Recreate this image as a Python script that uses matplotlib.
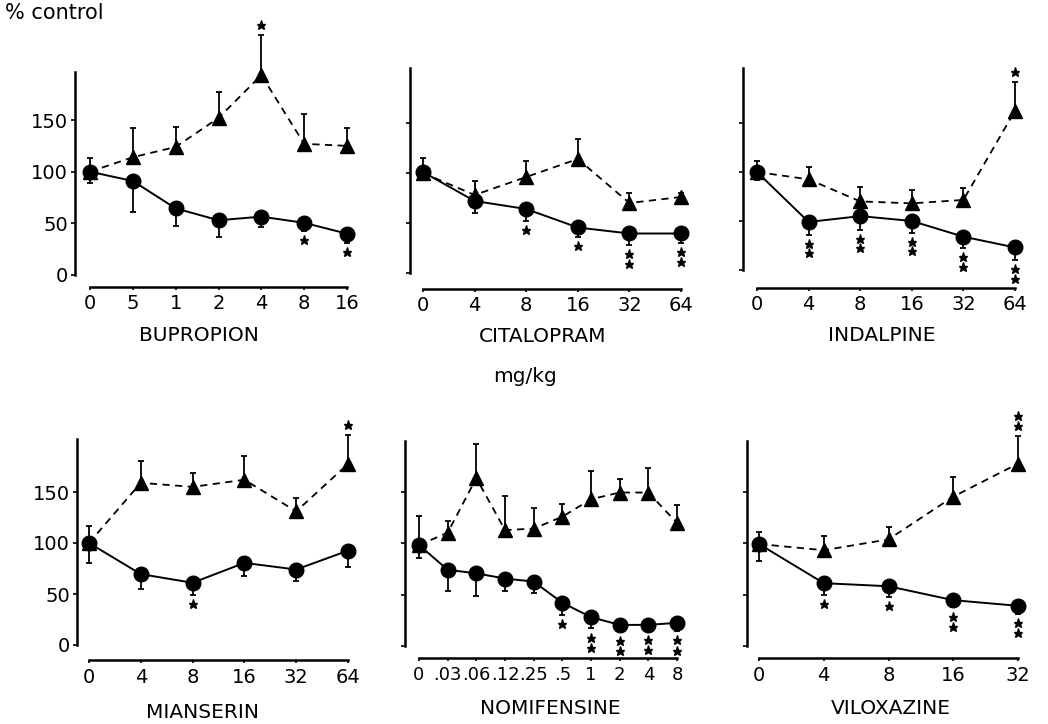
import matplotlib
matplotlib.use("Agg")
import matplotlib.pyplot as plt

plt.rcParams['font.family'] = ['DejaVu Sans']

# ---- data (% of control) ----
names = ['BUPROPION', 'CITALOPRAM', 'INDALPINE', 'MIANSERIN', 'NOMIFENSINE', 'VILOXAZINE']

doses_bup = ['0', '5', '1', '2', '4', '8', '16']
circ_bup = [100, 91, 64.5, 53, 56.5, 50.5, 40]
circ_lo_bup = [89, 61, 47, 37, 46, 42.5, 31]
tri_bup = [100, 114, 124, 152, 193.5, 127, 125]
tri_hi_bup = [113, 142, 143.5, 177, 232, 155.5, 142]
c_stars_bup = [0, 0, 0, 0, 0, 1, 1]
t_stars_bup = [0, 0, 0, 0, 1, 0, 0]

doses_cit = ['0', '4', '8', '16', '32', '64']
circ_cit = [101, 72, 64, 45.5, 39.5, 39.5]
circ_lo_cit = [95, 60, 52, 36, 28, 30]
tri_cit = [100, 78, 96, 114, 70, 76]
tri_hi_cit = [115, 92, 112, 134, 80, 80]
c_stars_cit = [0, 0, 1, 1, 2, 2]
t_stars_cit = [0, 0, 0, 0, 0, 0]

doses_ind = ['0', '4', '8', '16', '32', '64']
circ_ind = [100, 49, 55, 50, 34, 23]
circ_lo_ind = [92, 36, 41, 38, 22, 10]
tri_ind = [100, 92.5, 70, 68, 71.5, 162.5]
tri_hi_ind = [111.5, 105, 85, 82, 84, 192]
c_stars_ind = [0, 2, 2, 2, 2, 2]
t_stars_ind = [0, 0, 0, 0, 0, 1]

doses_mia = ['0', '4', '8', '16', '32', '64']
circ_mia = [100, 69.5, 61, 80.5, 74, 92.5]
circ_lo_mia = [80, 54.5, 49.5, 67.5, 62.5, 76]
tri_mia = [100, 159, 155, 162, 131, 177.5]
tri_hi_mia = [116.5, 180.5, 169, 185, 144, 206]
c_stars_mia = [0, 0, 1, 0, 0, 0]
t_stars_mia = [0, 0, 0, 0, 0, 1]

doses_nom = ['0', '.03', '.06', '.12', '.25', '.5', '1', '2', '4', '8']
circ_nom = [98, 74, 70.5, 65.5, 62.5, 42, 28, 20.5, 20.5, 22.5]
circ_lo_nom = [85, 53.5, 49, 53.5, 51, 30, 17, 14, 15, 14.5]
tri_nom = [98, 110, 163, 112.5, 114, 125.5, 142.5, 149, 149, 119.5]
tri_hi_nom = [126.5, 121.5, 196, 146, 133.5, 138, 170, 162, 172.5, 137]
c_stars_nom = [0, 0, 0, 0, 0, 1, 2, 2, 2, 2]
t_stars_nom = [0, 0, 0, 0, 0, 0, 0, 0, 0, 0]

doses_vil = ['0', '4', '8', '16', '32']
circ_vil = [99, 61, 58, 44.5, 39]
circ_lo_vil = [82.5, 49.5, 48, 37.5, 31.5]
tri_vil = [99, 93, 103.5, 145, 177]
tri_hi_vil = [111, 107, 116, 164, 204]
c_stars_vil = [0, 1, 1, 2, 2]
t_stars_vil = [0, 0, 0, 0, 2]

panels = [
    (doses_bup, circ_bup, circ_lo_bup, tri_bup, tri_hi_bup, c_stars_bup, t_stars_bup),
    (doses_cit, circ_cit, circ_lo_cit, tri_cit, tri_hi_cit, c_stars_cit, t_stars_cit),
    (doses_ind, circ_ind, circ_lo_ind, tri_ind, tri_hi_ind, c_stars_ind, t_stars_ind),
    (doses_mia, circ_mia, circ_lo_mia, tri_mia, tri_hi_mia, c_stars_mia, t_stars_mia),
    (doses_nom, circ_nom, circ_lo_nom, tri_nom, tri_hi_nom, c_stars_nom, t_stars_nom),
    (doses_vil, circ_vil, circ_lo_vil, tri_vil, tri_hi_vil, c_stars_vil, t_stars_vil),
]

# ---- layout in pixels: spine x, first x, last x, y of zero, px per unit, x-axis y, spine top y
W, H = 1048, 724
geom = [
    (75, 90, 347, 275, 1.033, 287, 72),
    (410, 423, 681, 273, 1.0, 289, 68),
    (743, 757, 1015, 270, 0.98, 288, 68),
    (77, 89, 348, 645, 1.02, 660, 439),
    (405, 419, 677, 646, 1.03, 658, 441),
    (747, 759, 1018, 646, 1.03, 658, 441),
]
label_pos = [(199, 336), (543, 337), (882, 336), (203, 713), (550, 708), (891, 708)]

fig = plt.figure(figsize=(W / 100, H / 100), dpi=100)
fig.patch.set_facecolor('white')

ylo, yhi = -30, 255
for i, (p, g) in enumerate(zip(panels, geom)):
    doses, circ, circ_lo, tri, tri_hi, cst, tst = p
    sx, x0, xN, zy, ppu, ay, sty = g
    n = len(doses)
    ppx = (xN - x0) / (n - 1)
    right = xN + 14
    top = zy - yhi * ppu
    bot = zy - ylo * ppu
    ax = fig.add_axes([sx / W, 1 - bot / H, (right - sx) / W, (bot - top) / H])
    ax.set_xlim((sx - x0) / ppx, (right - x0) / ppx)
    ax.set_ylim(ylo, yhi)
    ax.patch.set_alpha(0)

    x = list(range(n))
    # triangles (dashed) with upward error bars
    ax.errorbar(x[1:], tri[1:], yerr=[[0] * (n - 1), [h - m for h, m in zip(tri_hi[1:], tri[1:])]],
                fmt='none', ecolor='black', elinewidth=1.3, capsize=2, capthick=1.3, clip_on=False)
    ax.plot(x, tri, color='black', lw=1.3, ls=(0, (4, 3)), marker='^', ms=10,
            mfc='black', mec='black', clip_on=False, zorder=3)
    # circles (solid) with downward error bars, control point both ways
    up = [0] * n
    up[0] = tri_hi[0] - circ[0]
    ax.errorbar(x, circ, yerr=[[m - l for m, l in zip(circ, circ_lo)], up],
                fmt='none', ecolor='black', elinewidth=1.3, capsize=2, capthick=1.3, clip_on=False)
    ax.plot(x, circ, color='black', lw=1.4, marker='o', ms=10.5,
            mfc='black', mec='black', clip_on=False, zorder=4)

    # significance stars
    for j in range(n):
        for k in range(cst[j]):
            ax.plot(j, circ_lo[j] - 9 - 10 * k, marker='*', ms=6.5, color='black', clip_on=False)
        for k in range(tst[j]):
            ax.plot(j, tri_hi[j] + 10 + 9 * k, marker='*', ms=6.5, color='black', clip_on=False)

    # axes styling
    for s in ['top', 'right']:
        ax.spines[s].set_visible(False)
    ax.spines['left'].set_linewidth(1.8)
    ax.spines['left'].set_bounds(0, (zy - sty) / ppu)
    ax.spines['bottom'].set_linewidth(1.8)
    ax.spines['bottom'].set_position(('data', (zy - ay) / ppu))
    ax.spines['bottom'].set_bounds(0, n - 1)

    ax.set_yticks([0, 50, 100, 150])
    if i in (0, 3):
        ax.set_yticklabels(['0', '50', '100', '150'])
    else:
        ax.set_yticklabels([])
    ax.tick_params(axis='y', direction='out', length=3, width=1.2, pad=2, labelsize=14)
    ax.set_xticks(x)
    ax.set_xticklabels(doses)
    ax.tick_params(axis='x', direction='out', length=2, width=1.2,
                   pad=3 if i < 3 else 4, labelsize=14 if i != 4 else 13)

    lx, ly = label_pos[i]
    fig.text(lx / W, 1 - ly / H, names[i], ha='center', va='center', fontsize=14.5)

fig.text(5 / W, 1 - 13 / H, '% control', ha='left', va='center', fontsize=15)
fig.text(525 / W, 1 - 376 / H, 'mg/kg', ha='center', va='center', fontsize=14.5)

fig.savefig('out.png', dpi=100, facecolor='white')
